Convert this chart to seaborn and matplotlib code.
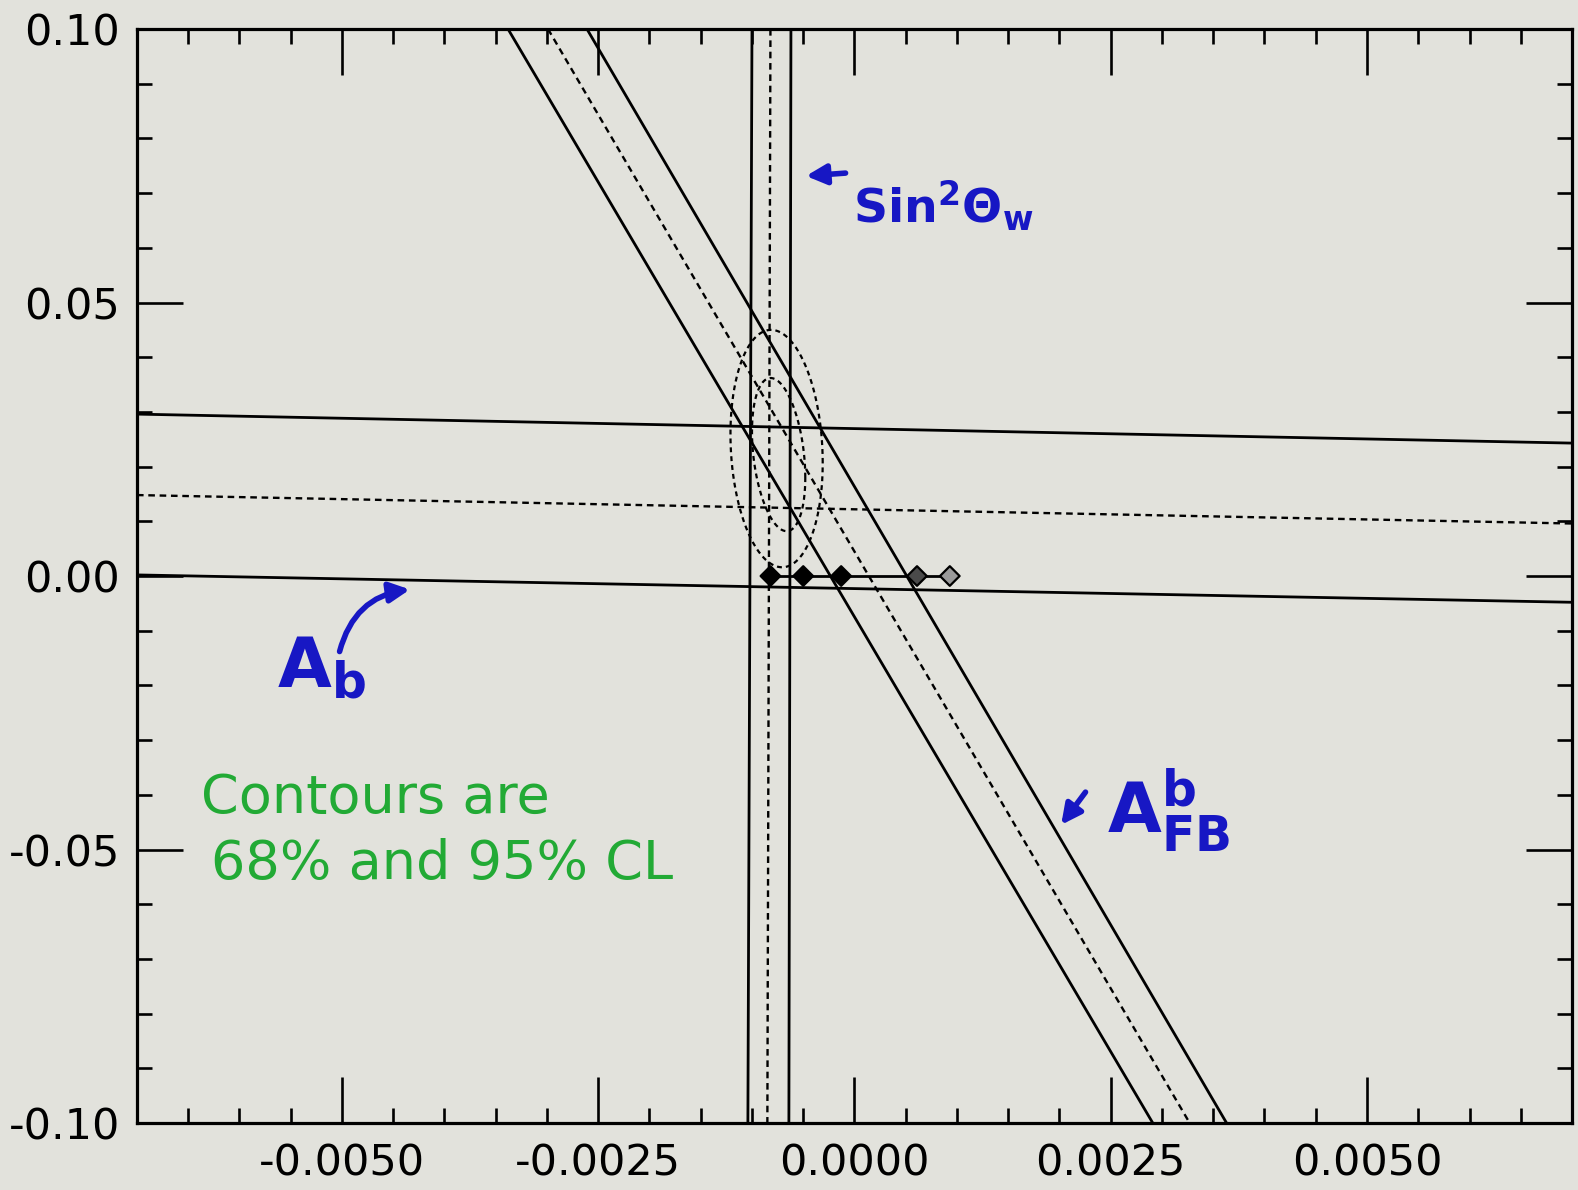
import numpy as np
import pandas as pd
import matplotlib
matplotlib.use("Agg")
import matplotlib.pyplot as plt
from matplotlib.ticker import MultipleLocator, StrMethodFormatter
import seaborn as sns

# ---------------- data ----------------
x_lim = [-0.007, 0.007]
y_lim = [-0.10, 0.10]

# sin^2 theta_W band (near-vertical): x positions at y = top / bottom
sin2_y = [0.10, -0.10]
sin2_lo_x = [-0.00100, -0.00104]
sin2_mid_x = [-0.00082, -0.00085]
sin2_hi_x = [-0.00062, -0.00064]

# A_b band (near-horizontal): y positions at x = left / right
ab_x = [-0.007, 0.007]
ab_hi_y = [0.0296, 0.0243]
ab_mid_y = [0.0148, 0.0096]
ab_lo_y = [0.0002, -0.0048]

# A_FB^b band (diagonal): x positions at y = top / bottom
afb_y = [0.10, -0.10]
afb_lo_x = [-0.00338, 0.00291]
afb_mid_x = [-0.00299, 0.00327]
afb_hi_x = [-0.00261, 0.00363]

# SM prediction points
sm_x = [-0.00082, -0.00050, -0.00013, 0.00061, 0.00093]
sm_y = [0.0, 0.0, 0.0, 0.0, 0.0]
sm_fill = ["black", "black", "black", "#4a4a4a", "#9a9a9a"]

# confidence contours (68%, 95%)
cl_labels = ["68%", "95%"]
ell_cx = [-0.00074, -0.00076]
ell_cy = [0.0222, 0.0233]
ell_sx = [0.00026, 0.00045]
ell_sy = [0.0140, 0.0217]
ell_rho = [-0.30, -0.12]

x_ticklabels_fmt = "{x:.4f}"
y_ticklabels_fmt = "{x:.2f}"

# ---------------- style ----------------
sns.set_theme(style="ticks")
plt.rcParams["font.family"] = ["DejaVu Sans"]
plt.rcParams["axes.unicode_minus"] = False
plt.rcParams["mathtext.fontset"] = "dejavusans"

bg = "#e2e2dc"
fig = plt.figure(figsize=(15.78, 11.90), dpi=100, facecolor=bg)
ax = fig.add_axes([0.0868, 0.0563, 0.9094, 0.9193], facecolor=bg)

lw_solid = 2.0
lw_dash = 1.7
dash = (0, (2.8, 2.0))

def band_line(xs, ys, ls):
    df = pd.DataFrame({"x": xs, "y": ys})
    sns.lineplot(data=df, x="x", y="y", sort=False, estimator=None, ax=ax,
                 color="black", lw=lw_solid if ls == "-" else lw_dash,
                 linestyle=ls)

# vertical band
band_line(sin2_lo_x, sin2_y, "-")
band_line(sin2_mid_x, sin2_y, dash)
band_line(sin2_hi_x, sin2_y, "-")
# horizontal band
band_line(ab_x, ab_hi_y, "-")
band_line(ab_x, ab_mid_y, dash)
band_line(ab_x, ab_lo_y, "-")
# diagonal band
band_line(afb_lo_x, afb_y, "-")
band_line(afb_mid_x, afb_y, dash)
band_line(afb_hi_x, afb_y, "-")

# contours
t = np.linspace(0, 2 * np.pi, 300)
for cx, cy, sx, sy, r in zip(ell_cx, ell_cy, ell_sx, ell_sy, ell_rho):
    ex = cx + sx * np.cos(t)
    ey = cy + sy * (r * np.cos(t) + np.sqrt(1 - r * r) * np.sin(t))
    sns.lineplot(x=ex, y=ey, sort=False, estimator=None, ax=ax,
                 color="black", lw=1.6, linestyle=(0, (2.2, 1.8)))

# SM points
sns.lineplot(x=sm_x, y=sm_y, sort=False, estimator=None, ax=ax,
             color="black", lw=2.0)
sns.scatterplot(x=sm_x, y=sm_y, ax=ax, marker="D", s=100, c=sm_fill,
                edgecolor="black", linewidth=1.6, zorder=5)

ax.set_xlim(x_lim)
ax.set_ylim(y_lim)
ax.set_xlabel("")
ax.set_ylabel("")

ax.xaxis.set_major_locator(MultipleLocator(0.0025))
ax.xaxis.set_minor_locator(MultipleLocator(0.0005))
ax.yaxis.set_major_locator(MultipleLocator(0.05))
ax.yaxis.set_minor_locator(MultipleLocator(0.01))
ax.xaxis.set_major_formatter(StrMethodFormatter(x_ticklabels_fmt))
ax.yaxis.set_major_formatter(StrMethodFormatter(y_ticklabels_fmt))

ax.tick_params(which="both", direction="in", top=True, right=True,
               color="black", width=1.9, labelcolor="black")
ax.tick_params(which="major", length=33)
ax.tick_params(which="minor", length=11)
ax.tick_params(axis="x", which="major", pad=14, labelsize=31)
ax.tick_params(axis="y", which="major", pad=12, labelsize=31)
for s in ax.spines.values():
    s.set_linewidth(2.3)
    s.set_color("black")
    s.set_visible(True)

# ---------------- annotations ----------------
blue = "#1717c4"
green = "#22aa35"

ax.text(-0.00001, 0.0645, r"Sin$^{\mathbf{2}}\mathbf{\Theta}_{\mathbf{w}}$",
        color=blue, fontsize=34, fontweight="bold", ha="left", va="baseline")
ax.annotate("", xy=(-0.00050, 0.0731), xytext=(-0.00006, 0.0737),
            arrowprops=dict(arrowstyle="-|>", color=blue, lw=4,
                            mutation_scale=30))

ax.text(-0.00563, -0.0203, r"A$_{\mathbf{b}}$", color=blue, fontsize=50,
        fontweight="bold", ha="left", va="baseline")
ax.annotate("", xy=(-0.00431, -0.0024), xytext=(-0.00503, -0.0143),
            arrowprops=dict(arrowstyle="-|>", color=blue, lw=4,
                            mutation_scale=30,
                            connectionstyle="arc3,rad=-0.35"))

ax.text(0.00246, -0.0470, r"A$^{\mathbf{b}}_{\mathbf{FB}}$", color=blue,
        fontsize=50, fontweight="bold", ha="left", va="baseline")
ax.annotate("", xy=(0.00200, -0.0459), xytext=(0.00227, -0.0391),
            arrowprops=dict(arrowstyle="-|>", color=blue, lw=4,
                            mutation_scale=30))

ax.text(-0.00638, -0.0433, "Contours are", color=green, fontsize=39,
        ha="left", va="baseline")
ax.text(-0.00628, -0.0553, "68% and 95% CL", color=green, fontsize=39,
        ha="left", va="baseline")

fig.savefig("out.png", dpi=100, facecolor=bg)
